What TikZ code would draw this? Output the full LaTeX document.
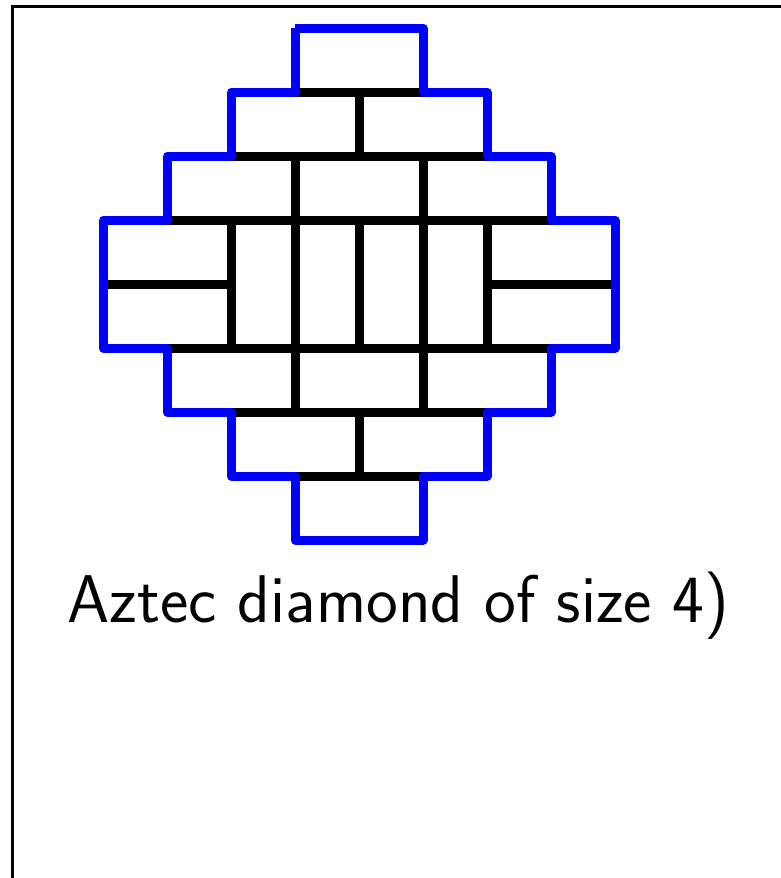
\documentclass[tikz,border=0pt]{standalone}
\begin{document}
\begin{tikzpicture}[x=1pt,y=-1pt,
  frameline/.style={line width=3pt,black},
  domino/.style={line width=9pt,black,line cap=butt},
  rim/.style={line width=9pt,color={rgb,255:red,0;green,0;blue,255},line join=round},
  caption/.style={font=\sffamily\fontsize{67.5}{80}\selectfont,anchor=base,inner sep=0pt}]
\useasboundingbox (0,0) rectangle (781,878);
\draw[frameline] (12.5,880) -- (12.5,6.5) -- (785,6.5);
\begin{scope}[shift={(103,28)},x=64pt,y=-64pt]
  % inner domino boundaries
  \draw[domino] (3,1) -- (5,1);
  \draw[domino] (4,1) -- (4,2);
  \draw[domino] (2,2) -- (6,2);
  \draw[domino] (3,2) -- (3,6);
  \draw[domino] (5,2) -- (5,6);
  \draw[domino] (1,3) -- (7,3);
  \draw[domino] (2,3) -- (2,5);
  \draw[domino] (4,3) -- (4,5);
  \draw[domino] (6,3) -- (6,5);
  \draw[domino] (0,4) -- (2,4);
  \draw[domino] (6,4) -- (8,4);
  \draw[domino] (1,5) -- (7,5);
  \draw[domino] (2,6) -- (6,6);
  \draw[domino] (4,6) -- (4,7);
  \draw[domino] (3,7) -- (5,7);
  % outer boundary
  \draw[rim] (3,0) -- (5,0) -- (5,1) -- (6,1) -- (6,2) -- (7,2) -- (7,3) -- (8,3)
    -- (8,5) -- (7,5) -- (7,6) -- (6,6) -- (6,7) -- (5,7) -- (5,8) -- (3,8)
    -- (3,7) -- (2,7) -- (2,6) -- (1,6) -- (1,5) -- (0,5) -- (0,3) -- (1,3)
    -- (1,2) -- (2,2) -- (2,1) -- (3,1) -- (3,0);
\end{scope}
\node[caption] (cap) at (398.5,622) {Aztec diamond of size 4)};
\end{tikzpicture}
\end{document}
